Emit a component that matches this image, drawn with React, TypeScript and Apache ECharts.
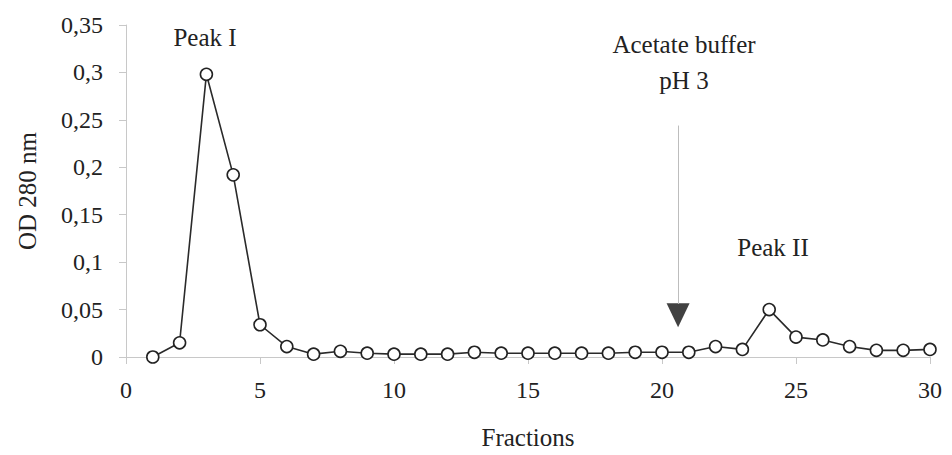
import React, { useEffect, useRef } from "react";
import * as echarts from "echarts";

const fractions: number[] = [1, 2, 3, 4, 5, 6, 7, 8, 9, 10, 11, 12, 13, 14, 15, 16, 17, 18, 19, 20, 21, 22, 23, 24, 25, 26, 27, 28, 29, 30];
const od280: number[] = [0.0, 0.015, 0.298, 0.192, 0.034, 0.011, 0.003, 0.006, 0.004, 0.003, 0.003, 0.003, 0.005, 0.004, 0.004, 0.004, 0.004, 0.004, 0.005, 0.005, 0.005, 0.011, 0.008, 0.05, 0.021, 0.018, 0.011, 0.007, 0.007, 0.008];

const arrowX = 20.6;
const arrowTop = 0.244;
const arrowLineEnd = 0.056;
const arrowHead = 0.044;

const FONT = "Liberation Serif";
const TEXT = "#222";

const txt = (text: string, x: number, y: number) => ({
  type: "text",
  x,
  y,
  style: { text, fontFamily: FONT, fontSize: 25, fill: TEXT, align: "center", verticalAlign: "middle" },
});

export default function App() {
  const ref = useRef<HTMLDivElement>(null);
  useEffect(() => {
    if (!ref.current) return;
    const chart = echarts.init(ref.current, undefined, { renderer: "svg" });
    chart.setOption({
      animation: false,
      backgroundColor: "#fff",
      textStyle: { fontFamily: FONT },
      grid: { left: 126, right: 22, top: 25, bottom: 93 },
      xAxis: {
        type: "value",
        min: 0,
        max: 30,
        interval: 5,
        name: "Fractions",
        nameLocation: "middle",
        nameGap: 68,
        nameTextStyle: { fontFamily: FONT, fontSize: 25, color: TEXT },
        axisLine: { lineStyle: { color: "#c8c8c8", width: 1 } },
        axisTick: { show: true, length: 7, lineStyle: { color: "#c8c8c8" } },
        axisLabel: { fontFamily: FONT, fontSize: 24, color: TEXT, margin: 21 },
        splitLine: { show: false },
      },
      yAxis: {
        type: "value",
        min: 0,
        max: 0.35,
        interval: 0.05,
        name: "OD 280 nm",
        nameLocation: "middle",
        nameGap: 86,
        nameTextStyle: { fontFamily: FONT, fontSize: 25, color: TEXT },
        axisLine: { show: true, lineStyle: { color: "#c8c8c8", width: 1 } },
        axisTick: { show: true, length: 7, lineStyle: { color: "#c8c8c8" } },
        axisLabel: {
          fontFamily: FONT,
          fontSize: 24,
          color: TEXT,
          margin: 23,
          formatter: (v: number) => String(Number(v.toFixed(2))).replace(".", ","),
        },
        splitLine: { show: false },
      },
      series: [
        {
          type: "line",
          data: fractions.map((f, i) => [f, od280[i]]),
          symbol: "circle",
          symbolSize: 12,
          lineStyle: { color: "#2a2a2a", width: 1.6 },
          itemStyle: { color: "#fff", borderColor: "#222", borderWidth: 1.6 },
          z: 3,
          markLine: {
            silent: true,
            symbol: ["none", "none"],
            label: { show: false },
            lineStyle: { color: "#bdbdbd", width: 1, type: "solid" },
            data: [[{ coord: [arrowX, arrowTop] }, { coord: [arrowX, arrowLineEnd] }]],
          },
        },
        {
          type: "scatter",
          data: [[arrowX, arrowHead]],
          symbol: "triangle",
          symbolRotate: 180,
          symbolSize: [23, 24],
          itemStyle: { color: "#111" },
          silent: true,
          z: 4,
        },
      ],
      graphic: [
        txt("Peak I", 205, 37),
        txt("Acetate buffer", 684, 44),
        txt("pH 3", 684, 80),
        txt("Peak II", 773, 247),
      ],
    });
    return () => chart.dispose();
  }, []);
  return <div ref={ref} style={{ width: 952, height: 455, position: "absolute", left: 0, top: 0 }} />;
}
